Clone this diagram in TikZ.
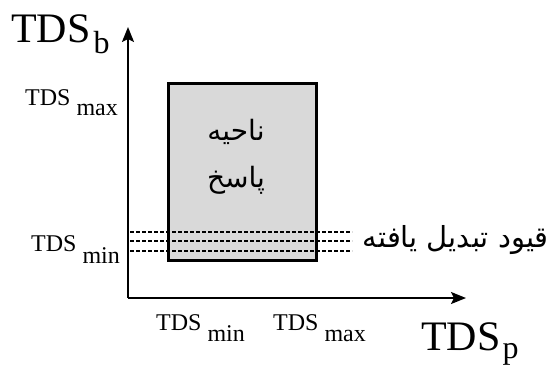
\documentclass[tikz,border=0pt]{standalone}
\usepackage{fontspec}
\setmainfont{Liberation Serif}
\newfontfamily\arabicfont[Script=Arabic]{DejaVu Sans}
\TeXXeTstate=1
\usetikzlibrary{arrows.meta}
\begin{document}
\begin{tikzpicture}[x=1pt,y=-1pt,
  axis/.style={line width=2pt,-{Stealth[length=15pt,width=12pt,inset=3pt]}},
  regionbox/.style={fill=black!15,minimum width=147pt,minimum height=176pt,inner sep=0pt},
  regionborder/.style={draw=black,line width=3pt},
  dashline/.style={line width=1.4pt,dash pattern=on 4pt off 2pt},
  small/.style={font=\fontsize{24}{26}\selectfont,inner sep=0pt,anchor=base west},
  big/.style={font=\fontsize{42}{46}\selectfont,inner sep=0pt,anchor=base west},
  fa/.style={font=\arabicfont\fontsize{28}{32}\selectfont,inner sep=0pt},
  fac/.style={font=\arabicfont\fontsize{29}{32}\selectfont,inner sep=0pt}]
\useasboundingbox (0,0) rectangle (556,365);
% region
\node[regionbox] (region) at (242.5,172) {};
% dashed constraint lines
\coordinate (d1a) at (130,232); \coordinate (d1b) at (352,232);
\coordinate (d2a) at (130,241); \coordinate (d2b) at (352,241);
\coordinate (d3a) at (130,251); \coordinate (d3b) at (352,251);
\draw[dashline] (d1a) -- (d1b);
\draw[dashline] (d2a) -- (d2b);
\draw[dashline] (d3a) -- (d3b);
\draw[regionborder] (region.north west) rectangle (region.south east);
% axes
\coordinate (O) at (128,298);
\coordinate (ytip) at (128,27);
\coordinate (xtip) at (466,298);
\draw[axis] (O) -- (ytip);
\draw[axis] (O) -- (xtip);
% texts
\node[fa] (t1) at (236,132) {\beginR ناحیه\endR};
\node[fa] (t2) at (236,180) {\beginR پاسخ\endR};
\node[fac,anchor=east] (t3) at (549,240) {\beginR قیود تبدیل یافته\endR};
\node[big] (yl) at (11,42) {TDS\hspace{3pt}\raisebox{-11pt}{\fontsize{32}{34}\selectfont b}};
\node[big] (xl) at (421,350) {TDS\hspace{2pt}\raisebox{-8pt}{\fontsize{32}{34}\selectfont p}};
\node[small] (ymax) at (25,105) {TDS\hspace{6pt}\raisebox{-10pt}{max}};
\node[small] (ymin) at (31,251) {TDS\hspace{6pt}\raisebox{-12pt}{min}};
\node[small] (xmin) at (156,330) {TDS\hspace{6pt}\raisebox{-11pt}{min}};
\node[small] (xmax) at (273,330) {TDS\hspace{6pt}\raisebox{-11pt}{max}};
\end{tikzpicture}
\end{document}
